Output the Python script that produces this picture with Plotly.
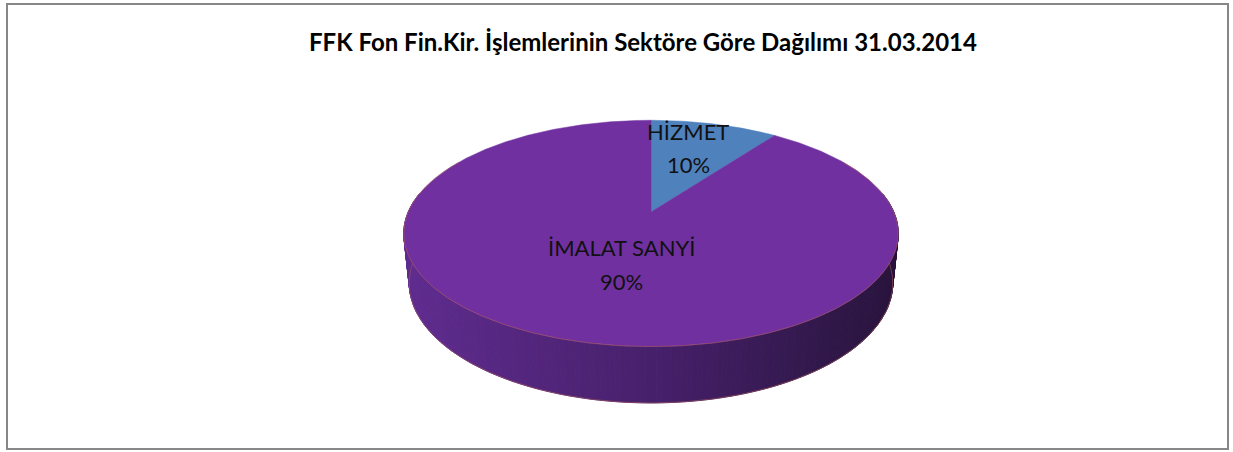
import numpy as np
import plotly.graph_objects as go

# ---- data ----
categories = ["HİZMET", "İMALAT SANYİ"]
values = [10, 90]
slice_colors = ["#4F81BD", "#7030A0"]
title_text = "FFK Fon Fin.Kir. İşlemlerinin Sektöre Göre Dağılımı 31.03.2014"

# ---- 3D pie projection settings ----
W, H = 1233, 452
CX, CY = 651, 212          # projected pie centre (pixels)
ELEV = np.radians(26.7)    # tilt
DIST = 4.72                # camera distance (radius units)
FOC = 1146                 # focal length (pixels)
DEPTH = 0.23               # pie thickness (radius units)
se, ce = np.sin(ELEV), np.cos(ELEV)


def proj(theta, z=0.0):
    """theta: clockwise from 12 o'clock (radians), r=1; z height (negative = down)."""
    x = np.sin(theta)
    y = np.cos(theta)
    v = y * se + z * ce
    w = DIST + y * ce - z * se
    return CX + FOC * x / w, CY - FOC * v / w


def proj_center(z=0.0):
    v = z * ce
    w = DIST - z * se
    return CX, CY - FOC * v / w


def lerp_color(c1, c2, t):
    a = np.array([int(c1[i:i + 2], 16) for i in (1, 3, 5)], float)
    b = np.array([int(c2[i:i + 2], 16) for i in (1, 3, 5)], float)
    c = a + (b - a) * t
    return "#%02x%02x%02x" % tuple(int(round(k)) for k in c)


def side_color(px):
    stops = [(405, "#5f2c8f"), (651, "#47206b"), (800, "#34194f"), (900, "#28133c")]
    for (x0, c0), (x1, c1) in zip(stops[:-1], stops[1:]):
        if px <= x1:
            t = min(max((px - x0) / (x1 - x0), 0), 1)
            return lerp_color(c0, c1, t)
    return stops[-1][1]


fig = go.Figure()

total = sum(values)
bounds = np.cumsum([0] + values) / total * 2 * np.pi

# ---- side walls (near half, visible) ----
for i, (a0, a1) in enumerate(zip(bounds[:-1], bounds[1:])):
    lo = max(a0, np.radians(80))
    hi = min(a1, np.radians(280))
    if hi <= lo:
        continue
    n = int(np.degrees(hi - lo)) + 2
    ts = np.linspace(lo, hi, n)
    for t0, t1 in zip(ts[:-1], ts[1:]):
        x0, y0 = proj(t0, 0)
        x1, y1 = proj(t1, 0)
        x2, y2 = proj(t1, -DEPTH)
        x3, y3 = proj(t0, -DEPTH)
        col = side_color((x0 + x1) / 2)
        fig.add_trace(go.Scatter(
            x=[x0, x1, x2, x3, x0], y=[y0, y1, y2, y3, y0],
            mode="lines", fill="toself", fillcolor=col,
            line=dict(color=col, width=1), hoverinfo="skip", showlegend=False))
    bx, by = proj(ts, -DEPTH)
    fig.add_trace(go.Scatter(x=bx, y=by, mode="lines",
                             line=dict(color="rgba(170,90,90,0.55)", width=1),
                             hoverinfo="skip", showlegend=False))

# ---- top faces ----
for i, (a0, a1) in enumerate(zip(bounds[:-1], bounds[1:])):
    ts = np.linspace(a0, a1, max(int(np.degrees(a1 - a0)) * 2, 4))
    px, py = proj(ts, 0)
    cx, cy = proj_center(0)
    xs = np.concatenate([[cx], px, [cx]])
    ys = np.concatenate([[cy], py, [cy]])
    fig.add_trace(go.Scatter(
        x=xs, y=ys, mode="lines", fill="toself", fillcolor=slice_colors[i],
        line=dict(color=slice_colors[i], width=0.5),
        hoverinfo="skip", showlegend=False))

ts = np.linspace(np.radians(60), np.radians(300), 400)
rx, ry = proj(ts, 0)
fig.add_trace(go.Scatter(x=rx, y=ry, mode="lines",
                         line=dict(color="rgba(170,90,90,0.6)", width=1),
                         hoverinfo="skip", showlegend=False))

# ---- labels ----
label_pos = [(688, 131, 164), (621, 247, 281)]
lab_font = dict(family="Lato, Open Sans, sans-serif", size=22, color="#111111")
for i, (lx, ly1, ly2) in enumerate(label_pos):
    pct = round(values[i] / total * 100)
    fig.add_annotation(x=lx, y=ly1, text=categories[i], showarrow=False,
                       xref="x", yref="y", font=lab_font)
    fig.add_annotation(x=lx, y=ly2, text=f"{pct}%", showarrow=False,
                       xref="x", yref="y", font=lab_font)

fig.add_annotation(x=643, y=41, text=f"<b>{title_text}</b>", showarrow=False,
                   xref="x", yref="y",
                   font=dict(family="Lato, Open Sans, sans-serif", size=24, color="#000000"))

# ---- chart border ----
fig.add_shape(type="rect", x0=7, y0=4, x1=1228, y1=449, xref="x", yref="y",
              line=dict(color="#878787", width=2), fillcolor="rgba(0,0,0,0)")

fig.update_layout(
    width=W, height=H, margin=dict(l=0, r=0, t=0, b=0),
    paper_bgcolor="white", plot_bgcolor="white",
    xaxis=dict(range=[0, W], visible=False, fixedrange=True),
    yaxis=dict(range=[H, 0], visible=False, fixedrange=True),
    showlegend=False,
)

fig.write_html("out.html", config={"displayModeBar": False},
               post_script="document.body.style.margin='0';document.body.style.overflow='hidden';")
